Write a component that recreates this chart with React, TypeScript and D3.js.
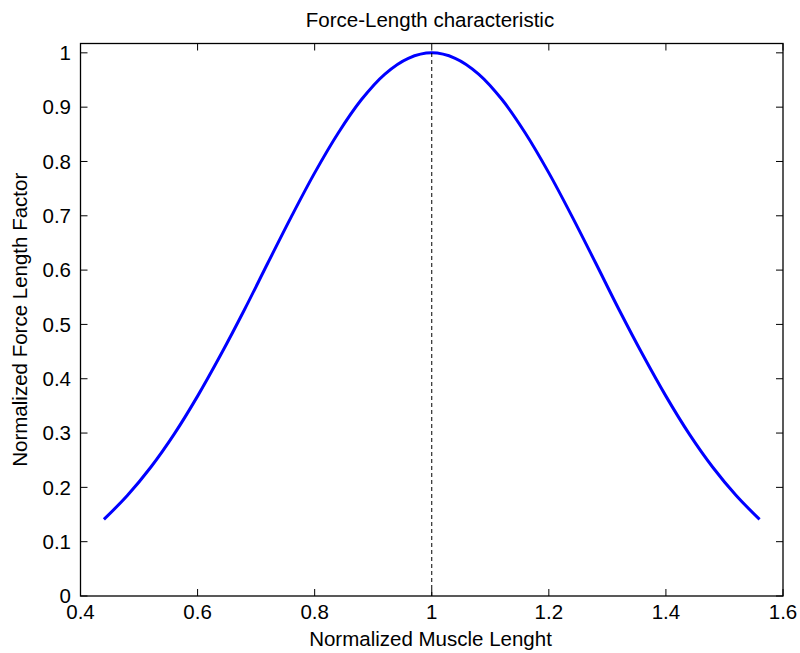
import React from "react";
import * as d3 from "d3";

const xs = [0.44, 0.48, 0.52, 0.56, 0.60, 0.64, 0.68, 0.72, 0.76, 0.80, 0.84, 0.88, 0.92, 0.96, 1.00,
  1.04, 1.08, 1.12, 1.16, 1.20, 1.24, 1.28, 1.32, 1.36, 1.40, 1.44, 1.48, 1.52, 1.56];
const ys = [0.141, 0.185, 0.237, 0.298, 0.368, 0.445, 0.527, 0.613, 0.698, 0.779, 0.852, 0.914, 0.961, 0.990, 1.000,
  0.990, 0.961, 0.914, 0.852, 0.779, 0.698, 0.613, 0.527, 0.445, 0.368, 0.298, 0.237, 0.185, 0.141];
const xTicks = [0.4, 0.6, 0.8, 1, 1.2, 1.4, 1.6];
const yTicks = [0, 0.1, 0.2, 0.3, 0.4, 0.5, 0.6, 0.7, 0.8, 0.9, 1];
const peakX = 1;
const title = "Force-Length characteristic";
const xLabel = "Normalized Muscle Lenght";
const yLabel = "Normalized Force Length Factor";

const W = 800, H = 653;
const L = 80.5, R = 783, T = 43.5, B = 596;
const FONT = "'Liberation Sans', Arial, Helvetica, sans-serif";
const FS = 20.5;

export default function App() {
  const x = d3.scaleLinear().domain([0.4, 1.6]).range([L, R]);
  const y = d3.scaleLinear().domain([0, 1.0172]).range([B, T]);
  const pts = xs.map((v, i) => [v, ys[i]] as [number, number]);
  const line = d3.line<[number, number]>().x(d => x(d[0])).y(d => y(d[1])).curve(d3.curveCatmullRom);
  const tl = 7;
  return (
    <svg width={W} height={H} style={{ position: "absolute", left: 0, top: 0, background: "#fff" }} fontFamily={FONT}>
      <rect x={0} y={0} width={W} height={H} fill="#fff" />
      <path d={line(pts) || ""} fill="none" stroke="#0000ff" strokeWidth={3} strokeLinejoin="round" />
      <line x1={x(peakX)} x2={x(peakX)} y1={y(0)} y2={y(1)} stroke="#000" strokeWidth={1} strokeDasharray="4,3" />
      <rect x={L} y={T} width={R - L} height={B - T} fill="none" stroke="#000" strokeWidth={1.3} />
      {xTicks.map(t => (
        <g key={"x" + t}>
          <line x1={x(t)} x2={x(t)} y1={B} y2={B - tl} stroke="#000" />
          <line x1={x(t)} x2={x(t)} y1={T} y2={T + tl} stroke="#000" />
          <text x={x(t)} y={619} textAnchor="middle" fontSize={FS} fill="#000">{String(t)}</text>
        </g>
      ))}
      {yTicks.map(t => (
        <g key={"y" + t}>
          <line x1={L} x2={L + tl} y1={y(t)} y2={y(t)} stroke="#000" />
          <line x1={R} x2={R - tl} y1={y(t)} y2={y(t)} stroke="#000" />
          <text x={71} y={y(t) + 7.3} textAnchor="end" fontSize={FS} fill="#000">{String(t)}</text>
        </g>
      ))}
      <text x={430} y={27} textAnchor="middle" fontSize={FS} fill="#000">{title}</text>
      <text x={430.5} y={646} textAnchor="middle" fontSize={FS} fill="#000">{xLabel}</text>
      <text transform={`translate(27,${(T + B) / 2}) rotate(-90)`} textAnchor="middle" fontSize={FS} fill="#000">{yLabel}</text>
    </svg>
  );
}
